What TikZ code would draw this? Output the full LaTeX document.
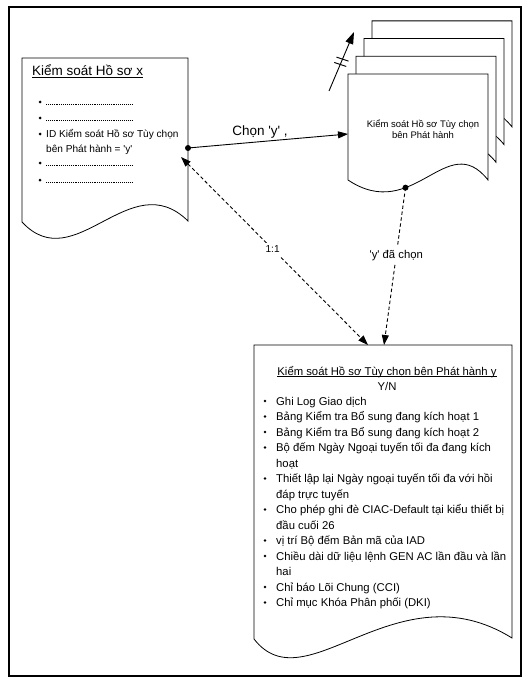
\documentclass[tikz,border=0pt]{standalone}
\usepackage{fontspec}
\setmainfont{Liberation Sans}
\usetikzlibrary{arrows.meta}

\begin{document}
\begin{tikzpicture}[x=1pt, y=-1pt]
        \tikzset{
            frame/.style={draw, line width=1.2pt},
            doc/.style={draw, fill=white, line width=0.8pt},
            link/.style={-{Triangle[length=10pt, width=7pt]}, line width=0.9pt},
            dashlink/.style={link, dash pattern=on 3.5pt off 2.5pt},
            leader/.style={line width=0.6pt, dash pattern=on 0.6pt off 1.3pt},
            port/.style={fill=black},
            tick/.style={line width=0.9pt},
            titletext/.style={font=\fontsize{13.5}{15}\selectfont, inner sep=0pt},
            smalltext/.style={font=\fontsize{10.1}{12}\selectfont, inner sep=0pt},
            pagetext/.style={font=\fontsize{9.5}{10.5}\selectfont, align=center, inner sep=0pt},
            itemtext/.style={font=\fontsize{11.3}{15.5}\selectfont, inner sep=0pt},
            linklabel/.style={fill=white, inner sep=3pt}
        }
        \newcommand{\tq}{\textquotesingle}

        \useasboundingbox (0,0) rectangle (528,682);
        \draw[frame] (9,7) rectangle (521,676);

        % ho so x
        \draw[doc] (22,58) -- (188,58) -- (188,221)
            .. controls (130,164) and (75,279) .. (22,222) -- cycle;
        \node[titletext, anchor=base west] (titlex) at (32,76) {\underline{\smash{Kiểm soát Hồ sơ x}}};
        \foreach \y in {102,118,163,180} {
            \fill (40,\y) circle (1.5pt);
            \draw[leader] (46,\y+2.5) -- (133,\y+2.5);
        }
        \fill (40,134) circle (1.5pt);
        \node[smalltext, anchor=base west] (idline1) at (46,138) {ID Kiểm soát Hồ sơ Tùy chọn};
        \node[smalltext, anchor=base west] (idline2) at (46,152) {bên Phát hành = \tq y\tq};
        \coordinate (iddot) at (188,148);
        \coordinate (idtip) at (181,157);

        % stack of option records
        \foreach \k in {3,2,1}
            \draw[doc, shift={(8*\k,-17.7*\k)}] (348,74) -- (348,180)
                .. controls (414,224) and (447,128) .. (488,180) -- (488,74) -- cycle;
        \draw[doc] (348,74) -- (348,180)
            .. controls (414,224) and (447,128) .. (488,180) coordinate[pos=0.34] (stackdot)
            -- (488,74) -- cycle;
        \node[pagetext] (stacktext) at (423,129) {Kiểm soát Hồ sơ Tùy chọn\\bên Phát hành};
        \coordinate (stackin) at (348,134);

        \coordinate (symtail) at (329,91);
        \coordinate (symhead) at (354,32);
        \draw[link, -{Triangle[length=12pt, width=8pt]}] (symtail) -- (symhead)
            coordinate[pos=0.45] (cut1) coordinate[pos=0.54] (cut2);
        \draw[tick] ([shift={(-6,-2)}]cut1) -- ([shift={(6,2)}]cut1);
        \draw[tick] ([shift={(-6,-2)}]cut2) -- ([shift={(6,2)}]cut2);

        % ho so tuy chon y
        \draw[doc] (254,345) -- (512,345) -- (512,638)
            .. controls (396,566) and (306,706) .. (254,639) -- cycle;
        \coordinate (bottomin1) at (368,345);
        \coordinate (bottomin2) at (384,345);
        \node[itemtext, anchor=base] (titley) at (387,375)
            {\underline{\smash{Kiểm soát Hồ sơ Tùy chọn bên Phát hành y}}};
        \node[itemtext, anchor=base] (yn) at (387,390) {Y/N};
        \foreach \txt/\bul [count=\i] in {
            Ghi Log Giao dịch/1,
            Bảng Kiểm tra Bổ sung đang kích hoạt 1/1,
            Bảng Kiểm tra Bổ sung đang kích hoạt 2/1,
            Bộ đếm Ngày Ngoại tuyến tối đa đang kích/1,
            hoạt/0,
            Thiết lập lại Ngày ngoại tuyến tối đa với hồi/1,
            đáp trực tuyến/0,
            Cho phép ghi đè CIAC-Default tại kiểu thiết bị/1,
            đầu cuối 26/0,
            vị trí Bộ đếm Bản mã của IAD/1,
            Chiều dài dữ liệu lệnh GEN AC lần đầu và lần/1,
            hai/0,
            Chỉ báo Lõi Chung (CCI)/1,
            Chỉ mục Khóa Phân phối (DKI)/1} {
            \node[itemtext, anchor=base west] (item\i) at (276,{405+15.5*(\i-1)}) {\txt};
            \ifnum\bul=1 \fill (265,{401+15.5*(\i-1)}) circle (1.4pt); \fi
        }

        % connectors
        \draw[link] (iddot) -- node[titletext, above=3pt, pos=0.45] (chon) {Chọn \tq y\tq\ ,} (stackin);
        \fill[port] (iddot) circle (3pt);
        \draw[dashlink, {Triangle[length=10pt, width=7pt]}-{Triangle[length=10pt, width=7pt]}]
            (idtip) -- node[smalltext, linklabel, pos=0.49] (ratio) {1:1} (bottomin1);
        \draw[dashlink] (stackdot) -- node[itemtext, linklabel, pos=0.43] (picked) {\tq y\tq\ đã chọn} (bottomin2);
        \fill[port] (stackdot) circle (3pt);
\end{tikzpicture}
\end{document}
